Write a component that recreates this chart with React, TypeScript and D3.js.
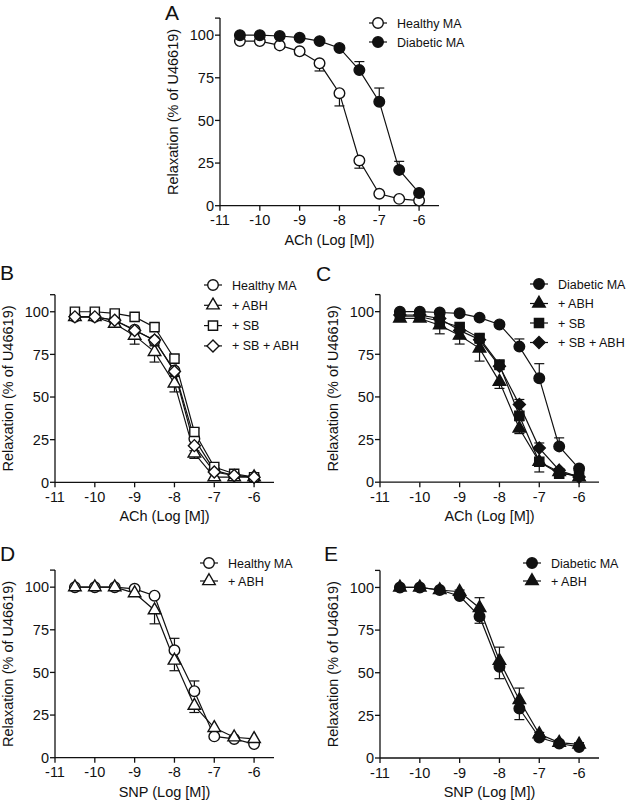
import React from "react";
import * as d3 from "d3";

// log concentrations used in every panel
const doses = [-10.5, -10, -9.5, -9, -8.5, -8, -7.5, -7, -6.5, -6];
const xTicks = [-11, -10, -9, -8, -7, -6];
const yTicks = [0, 25, 50, 75, 100];

// Panel A
const healthyA = [96.5, 96.5, 94, 90.5, 83.5, 66, 26.5, 7, 4, 3];
const healthyAErr = [1, 1, 1.5, 2, 4.5, 7.5, 4.5, 1, 1, 1];
const diabeticA = [100, 100, 99.5, 98.5, 96.5, 92.5, 79.5, 61, 21, 7.5];
const diabeticAErr = [0.5, 0.5, 0.5, 1, 1, 1.5, 5, 8, 5, 1];

// Panel B
const healthyB = [97, 97, 95, 89.5, 83, 65.5, 25.5, 7, 4, 3];
const healthyBErr = [1, 1, 1.5, 2, 3, 3, 3, 1, 1, 1];
const abhB = [97, 97, 93, 86, 76.5, 58, 17, 3, 3, 3];
const abhBErr = [1, 1, 2, 5, 6, 5, 3, 1, 1, 1];
const sbB = [100, 100, 99, 97, 91, 72.5, 29.5, 9, 5, 3];
const sbBErr = [0.5, 0.5, 1, 1, 2, 2, 2, 1, 1, 1];
const sbAbhB = [97, 97, 95, 89, 83.5, 65, 21.5, 6, 4, 3];
const sbAbhBErr = [1, 1, 1.5, 2, 3, 3, 3, 1, 1, 1];

// Panel C
const diabeticC = [100, 100, 99.5, 99, 96.5, 92.5, 79.5, 61, 21, 8];
const diabeticCErr = [0.5, 0.5, 0.5, 1, 1, 1.5, 4.5, 8.5, 5, 1];
const abhC = [96, 96, 92, 86, 78.5, 59, 31.5, 12, 6, 3];
const abhCErr = [1, 1, 5, 5, 7.5, 4, 3, 2, 1, 1];
const sbC = [97, 97, 94.5, 91, 84.5, 69, 39, 12, 5, 4];
const sbCErr = [1, 1, 2, 2, 3, 3, 3, 6, 1, 1];
const sbAbhC = [98, 98, 96, 89, 83.5, 68, 45.5, 20, 7, 3];
const sbAbhCErr = [1, 1, 1.5, 2, 3, 3, 3, 3, 1, 1];

// Panel D
const healthyD = [100, 100, 100, 99, 95, 63, 39, 12.5, 11, 8];
const healthyDErr = [0.5, 0.5, 0.5, 1, 1, 7, 6, 1, 1, 1];
const abhD = [100, 100, 100, 96.5, 86.5, 57, 30.5, 17.5, 12, 11];
const abhDErr = [0.5, 0.5, 0.5, 1, 8, 6, 4, 2, 1, 1];

// Panel E
const diabeticE = [100, 100, 98.5, 95, 83, 53.5, 29, 12, 8.5, 6.5];
const diabeticEErr = [0.5, 0.5, 1, 1.5, 4, 7, 6.5, 1, 1, 1];
const abhE = [100, 100, 98.5, 97.5, 88, 57, 34, 14, 9, 8];
const abhEErr = [0.5, 0.5, 0.5, 1, 6, 8, 7, 1, 1, 1];

const FONT = "'Liberation Sans', Arial, Helvetica, sans-serif";
const INK = "#111";

type Shape = "circle" | "triangle" | "square" | "diamond";
type Series = {
  name: string;
  values: number[];
  err: number[];
  errDir: 1 | -1; // 1 = bar drawn upward, -1 = downward
  shape: Shape;
  filled: boolean;
};

const symbolPath = (shape: Shape) => {
  if (shape === "circle") return d3.symbol(d3.symbolCircle, 88)()!;
  if (shape === "square") return d3.symbol(d3.symbolSquare, 84)()!;
  if (shape === "triangle") return d3.symbol(d3.symbolTriangle, 68)()!;
  return d3.symbol(d3.symbolSquare, 72)()!;
};

const Marker = ({ s, x, y }: { s: Series; x: number; y: number }) => (
  <path
    d={symbolPath(s.shape)}
    transform={`translate(${x},${y})${s.shape === "diamond" ? " rotate(45)" : ""}`}
    fill={s.filled ? INK : "#fff"}
    stroke={INK}
    strokeWidth={1.4}
  />
);

type PanelProps = {
  label: string;
  labelX: number;
  labelY: number;
  ox: number;
  oy: number;
  xTitle: string;
  series: Series[];
  legendX: number;
  legendY: number;
  legendStep: number;
};

const Panel = ({ label, labelX, labelY, ox, oy, xTitle, series, legendX, legendY, legendStep }: PanelProps) => {
  const x = d3.scaleLinear().domain([-11, -5.5]).range([ox, ox + 219]);
  const y = d3.scaleLinear().domain([0, 110]).range([oy, oy - 187.6]);
  const line = d3
    .line<number>()
    .x((_, i) => x(doses[i]))
    .y((d) => y(d));

  return (
    <g fill={INK}>
      <text x={labelX} y={labelY} fontSize={21} fontFamily={FONT}>
        {label}
      </text>

      {/* axes */}
      <line x1={ox} x2={ox} y1={y(0)} y2={y(110)} stroke={INK} strokeWidth={1.3} />
      <line x1={ox} x2={x(-5.5)} y1={y(0)} y2={y(0)} stroke={INK} strokeWidth={1.3} />
      <line x1={ox - 5} x2={ox} y1={y(110)} y2={y(110)} stroke={INK} strokeWidth={1.3} />
      {yTicks.map((t) => (
        <g key={"y" + t}>
          <line x1={ox - 5} x2={ox} y1={y(t)} y2={y(t)} stroke={INK} strokeWidth={1.3} />
          <text x={ox - 6} y={y(t)} dy="0.36em" textAnchor="end" fontSize={14.5} fontFamily={FONT}>
            {t}
          </text>
        </g>
      ))}
      {xTicks.map((t) => (
        <g key={"x" + t}>
          <line x1={x(t)} x2={x(t)} y1={oy} y2={oy + 5} stroke={INK} strokeWidth={1.3} />
          <text x={x(t)} y={oy + 19.5} textAnchor="middle" fontSize={14.5} fontFamily={FONT}>
            {t}
          </text>
        </g>
      ))}
      <text x={x(-8.25)} y={oy + 39} textAnchor="middle" fontSize={14.5} fontFamily={FONT}>
        {xTitle}
      </text>
      <text
        transform={`translate(${ox - 42},${y(55)}) rotate(-90)`}
        textAnchor="middle"
        fontSize={14.5}
        fontFamily={FONT}
      >
        Relaxation (% of U46619)
      </text>

      {/* lines */}
      {series.map((s) => (
        <path key={"l" + s.name} d={line(s.values)!} fill="none" stroke={INK} strokeWidth={1.2} />
      ))}
      {/* error bars */}
      {series.map((s) =>
        s.values.map((v, i) => {
          const e = v + s.errDir * s.err[i];
          return (
            <g key={"e" + s.name + i}>
              <line x1={x(doses[i])} x2={x(doses[i])} y1={y(v)} y2={y(e)} stroke={INK} strokeWidth={1.2} />
              <line x1={x(doses[i]) - 5} x2={x(doses[i]) + 5} y1={y(e)} y2={y(e)} stroke={INK} strokeWidth={1.2} />
            </g>
          );
        })
      )}
      {/* markers */}
      {series.map((s) =>
        s.values.map((v, i) => <Marker key={"m" + s.name + i} s={s} x={x(doses[i])} y={y(v)} />)
      )}

      {/* legend */}
      {series.map((s, i) => {
        const ly = legendY + i * legendStep;
        return (
          <g key={"lg" + s.name}>
            <line x1={legendX - 9} x2={legendX + 9} y1={ly} y2={ly} stroke={INK} strokeWidth={1.2} />
            <Marker s={s} x={legendX} y={ly} />
            <text x={legendX + 19} y={ly} dy="0.36em" fontSize={12.5} fontFamily={FONT}>
              {s.name}
            </text>
          </g>
        );
      })}
    </g>
  );
};

export default function App() {
  const seriesA: Series[] = [
    { name: "Healthy MA", values: healthyA, err: healthyAErr, errDir: -1, shape: "circle", filled: false },
    { name: "Diabetic MA", values: diabeticA, err: diabeticAErr, errDir: 1, shape: "circle", filled: true },
  ];
  const seriesB: Series[] = [
    { name: "Healthy MA", values: healthyB, err: healthyBErr, errDir: -1, shape: "circle", filled: false },
    { name: "+ ABH", values: abhB, err: abhBErr, errDir: -1, shape: "triangle", filled: false },
    { name: "+ SB", values: sbB, err: sbBErr, errDir: 1, shape: "square", filled: false },
    { name: "+ SB + ABH", values: sbAbhB, err: sbAbhBErr, errDir: -1, shape: "diamond", filled: false },
  ];
  const seriesC: Series[] = [
    { name: "Diabetic MA", values: diabeticC, err: diabeticCErr, errDir: 1, shape: "circle", filled: true },
    { name: "+ ABH", values: abhC, err: abhCErr, errDir: -1, shape: "triangle", filled: true },
    { name: "+ SB", values: sbC, err: sbCErr, errDir: -1, shape: "square", filled: true },
    { name: "+ SB + ABH", values: sbAbhC, err: sbAbhCErr, errDir: 1, shape: "diamond", filled: true },
  ];
  const seriesD: Series[] = [
    { name: "Healthy MA", values: healthyD, err: healthyDErr, errDir: 1, shape: "circle", filled: false },
    { name: "+ ABH", values: abhD, err: abhDErr, errDir: -1, shape: "triangle", filled: false },
  ];
  const seriesE: Series[] = [
    { name: "Diabetic MA", values: diabeticE, err: diabeticEErr, errDir: -1, shape: "circle", filled: true },
    { name: "+ ABH", values: abhE, err: abhEErr, errDir: 1, shape: "triangle", filled: true },
  ];

  return (
    <svg width={629} height={801} style={{ position: "absolute", left: 0, top: 0, background: "#fff" }}>
      <Panel label="A" labelX={165} labelY={20} ox={220} oy={205.7} xTitle="ACh (Log [M])" series={seriesA} legendX={378} legendY={23} legendStep={19} />
      <Panel label="B" labelX={0} labelY={280} ox={55} oy={482.3} xTitle="ACh (Log [M])" series={seriesB} legendX={213} legendY={285} legendStep={20.3} />
      <Panel label="C" labelX={316} labelY={281} ox={380} oy={482.2} xTitle="ACh (Log [M])" series={seriesC} legendX={539} legendY={284} legendStep={19.5} />
      <Panel label="D" labelX={0} labelY={561} ox={55} oy={757.7} xTitle="SNP (Log [M])" series={seriesD} legendX={209} legendY={563} legendStep={18} />
      <Panel label="E" labelX={324} labelY={561} ox={380} oy={758} xTitle="SNP (Log [M])" series={seriesE} legendX={532} legendY={563} legendStep={18} />
    </svg>
  );
}
